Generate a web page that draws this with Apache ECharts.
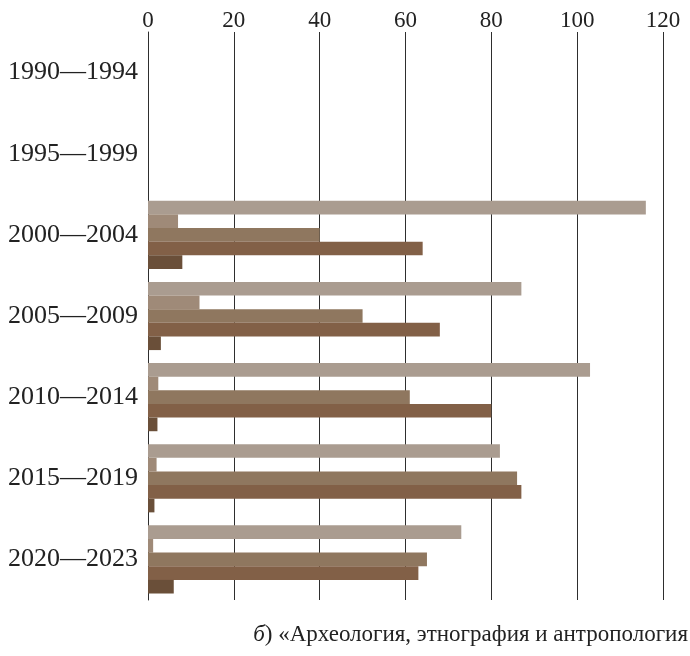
<!DOCTYPE html>
<html><head><meta charset="utf-8">
<script src="https://cdn.jsdelivr.net/npm/echarts@6/dist/echarts.min.js"></script>
<style>html,body{margin:0;padding:0;background:#fff}#c{width:690px;height:656px}</style>
</head><body><div id="c"></div>
<script>
const categories = ['1990—1994','1995—1999','2000—2004','2005—2009','2010—2014','2015—2019','2020—2023'];
const series1 = [null, null, 116, 87, 103, 82, 73];
const series2 = [null, null, 7, 12, 2.4, 2, 1.2];
const series3 = [null, null, 40, 50, 61, 86, 65];
const series4 = [null, null, 64, 68, 80, 87, 63];
const series5 = [null, null, 8, 3, 2.2, 1.5, 6];
const xTicks = [0, 20, 40, 60, 80, 100, 120];
const caption = '{i|б}) «Археология, этнография и антропология';

const colors = ['#aa9c90', '#9f8a78', '#8f775f', '#826047', '#6a4f39'];
const data = [series1, series2, series3, series4, series5];
const font = 'Liberation Serif';

const chart = echarts.init(document.getElementById('c'));
chart.setOption({
  animation: false,
  grid: { left: 148, right: 27, top: 32, bottom: 56 },
  xAxis: {
    type: 'value', position: 'top', min: xTicks[0], max: xTicks[xTicks.length - 1], interval: 20,
    axisLine: { show: false }, axisTick: { show: false },
    splitLine: { show: true, lineStyle: { color: '#2e2e2e', width: 1 } },
    axisLabel: { color: '#222', fontFamily: font, fontSize: 23, margin: 0 }
  },
  yAxis: {
    type: 'category', data: categories, inverse: true,
    axisLine: { show: true, lineStyle: { color: '#2e2e2e', width: 1 } },
    axisTick: { show: false },
    axisLabel: { color: '#222', fontFamily: font, fontSize: 26, margin: 10, align: 'right' }
  },
  series: data.map((d, i) => ({
    type: 'bar', data: d, barGap: '0%', barCategoryGap: '16%',
    itemStyle: { color: colors[i] }
  })),
  graphic: [{
    type: 'text', right: 2, top: 623,
    style: {
      text: caption, fill: '#222', font: '23px "Liberation Serif"',
      rich: { i: { fontStyle: 'italic', fontFamily: font, fontSize: 23, fill: '#222' } }
    }
  }]
});
</script></body></html>
